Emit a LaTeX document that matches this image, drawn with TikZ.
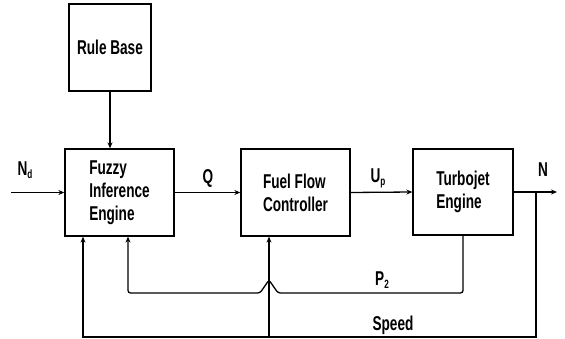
\documentclass[tikz,border=0pt]{standalone}
\usepackage{fontspec}
\setmainfont{Liberation Sans}[FakeStretch=0.68]
\usetikzlibrary{arrows.meta}
\newcommand{\sbs}[1]{\raisebox{-0.15em}{\fontsize{12}{12}\selectfont #1}}
\begin{document}
\begin{tikzpicture}[x=1pt,y=-1pt,
  blk/.style={draw,line width=1.3pt,inner sep=0pt,align=left,
    font=\fontsize{20}{23}\selectfont\bfseries},
  lbl/.style={font=\fontsize{20}{23}\selectfont\bfseries,inner sep=0pt},
  wire/.style={line width=1.3pt},
  arr/.style={wire,-{Stealth[length=6pt,width=5pt]}}]
\useasboundingbox (0,0) rectangle (565,339);
\node[blk,minimum width=82pt,minimum height=87pt] (rule) at (110,47.5) {Rule Base};
\node[blk,minimum width=109pt,minimum height=87pt] (fuzzy) at (119.5,192.5) {Fuzzy\\Inference\\Engine};
\node[blk,minimum width=109pt,minimum height=87pt] (fuel) at (295.5,192.5) {Fuel Flow\\Controller};
\node[blk,minimum width=100pt,minimum height=86pt] (turbo) at (463,192) {Turbojet\\Engine};
\coordinate (in) at (11,192.5);
\coordinate (out) at (557,192);
\coordinate (tap) at (536,192);
\coordinate (sl) at (83,337);
\coordinate (sb) at (269,337);
\coordinate (pr) at (463,293);
\coordinate (pl) at (128,293);
\draw[arr] (rule.south) -- (rule.south |- fuzzy.north);
\draw[arr] (in) -- (fuzzy.west);
\draw[arr] (fuzzy.east) -- (fuel.west);
\draw[arr] (fuel.east) -- (turbo.west);
\draw[arr] (turbo.east) -- (out);
\draw[arr] (tap) |- (sl) -- (sl |- fuzzy.south);
\draw[arr] (sb) -- (sb |- fuel.south);
\draw[arr,rounded corners=2.5pt] (turbo.south -| pr) -- (pr) -- (278,293) -- (269,280) -- (260,293) -- (pl) -- (pl |- fuzzy.south);
\node[lbl] (nd) at (25,170) {N\sbs{d}};
\node[lbl] (q) at (208,178) {Q};
\node[lbl] (up) at (378,178) {U\sbs{p}};
\node[lbl] (n) at (543,170) {N};
\node[lbl] (p2) at (382,280) {P\sbs{2}};
\node[lbl] (speed) at (393,325) {Speed};
\end{tikzpicture}
\end{document}
